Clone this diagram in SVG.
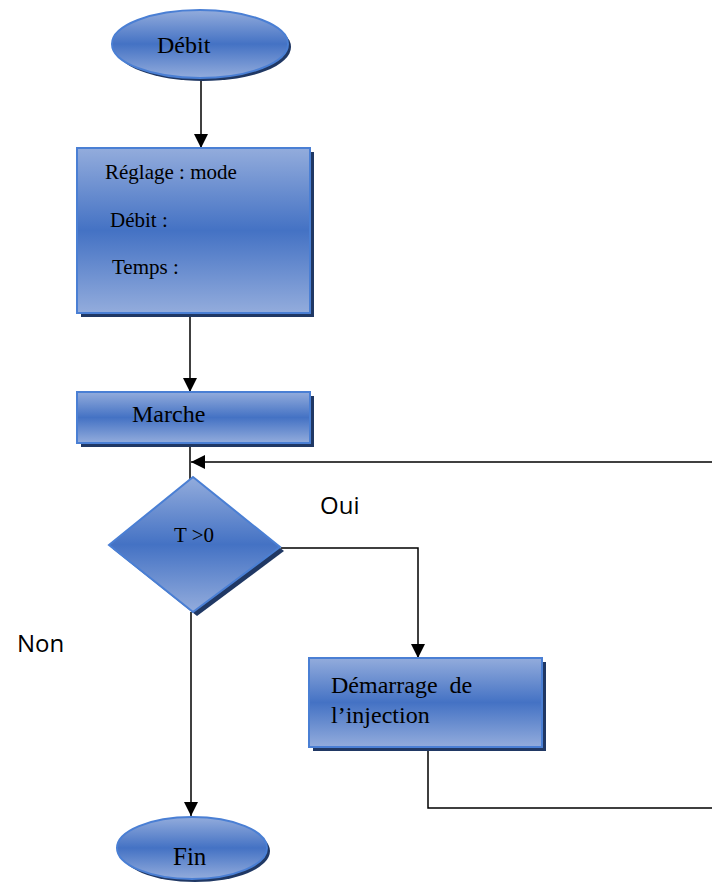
<svg xmlns="http://www.w3.org/2000/svg" width="712" height="888" viewBox="0 0 712 888">
  <defs>
    <linearGradient id="fillV" x1="0" y1="0" x2="0" y2="1">
      <stop offset="0" stop-color="#93acdc"/>
      <stop offset="0.5" stop-color="#4472c4"/>
      <stop offset="1" stop-color="#93acdc"/>
    </linearGradient>
    <marker id="arrowBig" viewBox="0 0 14 14" refX="14" refY="7" markerWidth="14" markerHeight="14" markerUnits="userSpaceOnUse" orient="auto">
      <path d="M0,0 L14,7 L0,14 Z" fill="#000"/>
    </marker>
  </defs>
  <style>
    .shape { fill: url(#fillV); stroke: #4a7fd4; stroke-width: 2; }
    .shadow { fill: #203864; }
    .label { font-family: "Liberation Serif", "Times New Roman", serif; font-size: 21px; fill: #000; }
    .big { font-size: 24px; }
    .note { font-family: "Open Sans", "Liberation Sans", sans-serif; font-size: 24px; fill: #000; }
    .wire { fill: none; stroke: #000; stroke-width: 1.5; }
  </style>

  <rect width="712" height="888" fill="#fff"/>

  <!-- connectors -->
  <g id="connectors">
    <line class="wire" x1="201" y1="80" x2="201" y2="148" marker-end="url(#arrowBig)"/>
    <line class="wire" x1="190" y1="315" x2="190" y2="392" marker-end="url(#arrowBig)"/>
    <line class="wire" x1="190" y1="445" x2="190" y2="480"/>
    <line class="wire" x1="712" y1="462" x2="191" y2="462" marker-end="url(#arrowBig)"/>
    <polyline class="wire" points="281,548 418,548 418,658" marker-end="url(#arrowBig)"/>
    <polyline class="wire" points="428,749 428,808 712,808"/>
    <line class="wire" x1="191" y1="612" x2="191" y2="816" marker-end="url(#arrowBig)"/>
  </g>

  <!-- start -->
  <g id="debit">
    <ellipse class="shadow" cx="203" cy="47" rx="88" ry="34"/>
    <ellipse class="shape" cx="200" cy="44" rx="88" ry="34"/>
    <text class="label big" x="157" y="53">Débit</text>
  </g>

  <!-- settings -->
  <g id="reglage">
    <rect class="shadow" x="81" y="152" width="233" height="165"/>
    <rect class="shape" x="77" y="148" width="233" height="165"/>
    <text class="label" x="105" y="179">Réglage : mode</text>
    <text class="label" x="110" y="227">Débit :</text>
    <text class="label" x="112" y="274">Temps :</text>
  </g>

  <!-- run -->
  <g id="marche">
    <rect class="shadow" x="81" y="396" width="233" height="51"/>
    <rect class="shape" x="77" y="392" width="233" height="51"/>
    <text class="label big" x="132" y="422">Marche</text>
  </g>

  <!-- test -->
  <g id="test">
    <polygon class="shadow" points="197,481 284,551 197,616 113,549"/>
    <polygon class="shape" points="193,477 280,547 193,612 109,545"/>
    <text class="label" x="174" y="542">T &gt;0</text>
  </g>

  <text class="note" x="320" y="514">Oui</text>
  <text class="note" x="17" y="652">Non</text>

  <!-- injection -->
  <g id="demarrage">
    <rect class="shadow" x="313" y="662" width="233" height="89"/>
    <rect class="shape" x="309" y="658" width="233" height="89"/>
    <text class="label big" x="331" y="693" xml:space="preserve">Démarrage  de</text>
    <text class="label big" x="331" y="723">l’injection</text>
  </g>

  <!-- end -->
  <g id="fin">
    <ellipse class="shadow" cx="195" cy="851" rx="75" ry="31"/>
    <ellipse class="shape" cx="192" cy="848" rx="75" ry="31"/>
    <text class="label" x="173" y="865" style="font-size:25px">Fin</text>
  </g>
</svg>
